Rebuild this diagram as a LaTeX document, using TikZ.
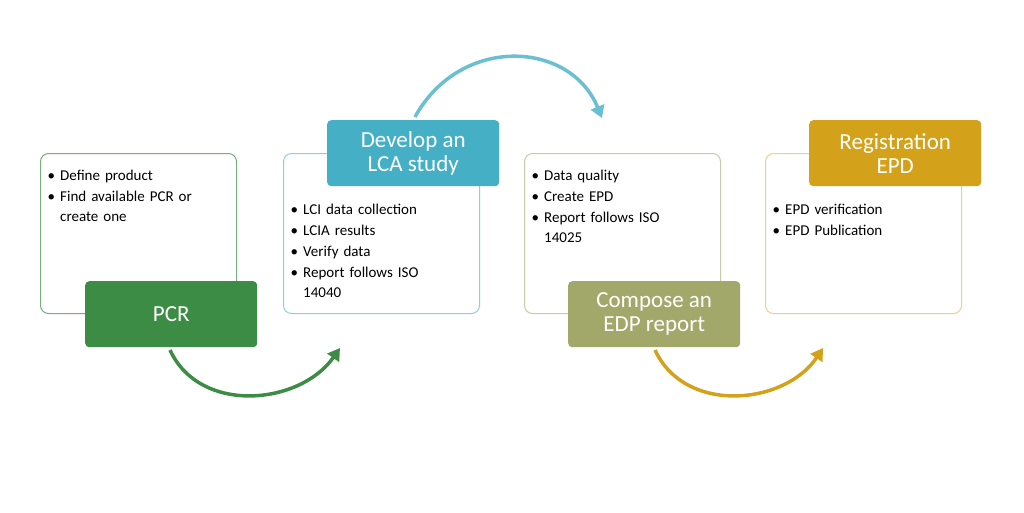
\documentclass[tikz,border=0pt]{standalone}
\usepackage{fontspec}
\setmainfont{Carlito}
\usepackage{enumitem}
\setlist[itemize]{leftmargin=14pt,itemsep=1pt,topsep=0pt,parsep=0pt,label=\textbullet}
\usetikzlibrary{positioning,arrows.meta}
\definecolor{pcrgreen}{HTML}{3C8C45}
\definecolor{lcateal}{HTML}{45AFC6}
\definecolor{edpolive}{HTML}{A2A86A}
\definecolor{regold}{HTML}{D3A21A}
\begin{document}
\begin{tikzpicture}[x=1pt,y=-1pt,
  panel/.style={draw, rounded corners=8pt, line width=1pt, fill=white, minimum width=196pt, minimum height=160pt, anchor=north west},
  head/.style={rounded corners=4pt, text=white, minimum width=172pt, minimum height=66pt, anchor=north west, align=center, font=\fontsize{23}{26}\selectfont},
  bullets/.style={anchor=north west, text width=190pt, inner sep=0pt, font=\fontsize{15}{20}\selectfont},
  flow/.style={line width=3.5pt, -{Triangle[length=12pt,width=14pt]}}]
\useasboundingbox (0,0) rectangle (1024,512);
\fill[white] (0,0) rectangle (1024,512);
% panels
\node[panel, draw=pcrgreen!70] (P1) at (40,153) {};
\node[panel, draw=lcateal!60] (P2) at (283,153) {};
\node[panel, draw=edpolive!60] (P3) at (524,153) {};
\node[panel, draw=regold!50] (P4) at (765,153) {};
% headings
\node[head, fill=pcrgreen] (H1) at (85,281) {PCR};
\node[head, fill=lcateal] (H2) at (327,120) {Develop an\\[-2pt]LCA study};
\node[head, fill=edpolive] (H3) at (568,281) {Compose an\\[-2pt]EDP report};
\node[head, fill=regold] (H4) at (809,120) {Registration\\[-2pt]EPD};
% bullet texts
\node[bullets] (T1) at (46,160) {\begin{itemize}\item Define product\item Find available PCR or\\create one\end{itemize}};
\node[bullets] (T2) at (289,194) {\begin{itemize}\item LCI data collection\item LCIA results\item Verify data\item Report follows ISO\\14040\end{itemize}};
\node[bullets] (T3) at (530,160) {\begin{itemize}\item Data quality\item Create EPD\item Report follows ISO\\14025\end{itemize}};
\node[bullets] (T4) at (771,194) {\begin{itemize}\item EPD verification\item EPD Publication\end{itemize}};
% arrows
\coordinate (A1) at (340,348);
\coordinate (A2) at (602,118);
\coordinate (A3) at (823,348);
\draw[flow, pcrgreen] (170,350) .. controls (200,415) and (300,405) .. (A1);
\draw[flow, lcateal!80] (415,117) .. controls (460,35) and (570,40) .. (A2);
\draw[flow, regold] (655,350) .. controls (685,415) and (785,405) .. (A3);
\end{tikzpicture}
\end{document}
